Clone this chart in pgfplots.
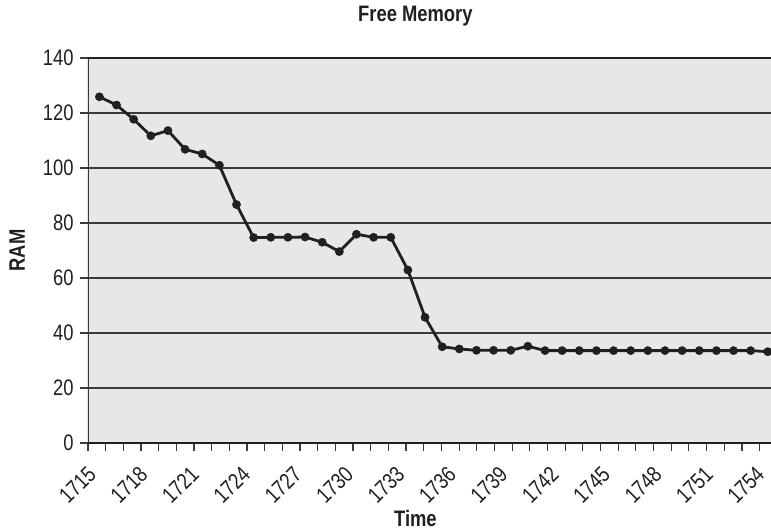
\documentclass[border=0pt]{standalone}
\usepackage{fontspec}
\setmainfont{Liberation Sans}[FakeStretch=0.82, BoldFont={Liberation Sans Bold}, BoldFeatures={FakeStretch=0.82}]
\usepackage{pgfplots}
\pgfplotsset{compat=1.18}
\definecolor{bg}{HTML}{E6E7E8}
\definecolor{ink}{HTML}{231F20}
\definecolor{gridc}{HTML}{3A3A3A}
\begin{document}
\begin{tikzpicture}
\begin{axis}[
  scale only axis,
  width=683.5bp, height=385bp,
  xmin=1714.335, xmax=1754.216,
  ymin=0, ymax=140,
  ytick={0,20,40,60,80,100,120,140},
  ymajorgrids,
  grid style={gridc, line width=1.5bp},
  axis background/.style={fill=bg},
  axis line style={draw=none},
  tick align=outside,
  major tick length=8bp,
  minor tick length=8bp,
  tick style={gridc, line width=1.3bp},
  xtick pos=bottom, ytick pos=left,
  /pgf/number format/assume math mode=true,
  /pgf/number format/1000 sep={},
  tick label style={font=\fontsize{22.5}{25}\selectfont, text=ink},
  minor xtick={1714.341,1715.372,1716.403,1717.434,1718.465,1719.496,1720.527,1721.557,1722.588,1723.619,1724.650,1725.681,1726.712,1727.743,1728.774,1729.805,1730.836,1731.867,1732.898,1733.929,1734.960,1735.991,1737.022,1738.053,1739.084,1740.115,1741.146,1742.176,1743.207,1744.238,1745.269,1746.300,1747.331,1748.362,1749.393,1750.424,1751.455,1752.486,1753.517},
  xtick={1715,1718,1721,1724,1727,1730,1733,1736,1739,1742,1745,1748,1751,1754},
  xticklabels={1715,1718,1721,1724,1727,1730,1733,1736,1739,1742,1745,1748,1751,1754},
  every major x tick/.append style={draw=none},
  xticklabel style={xshift=-13bp, yshift=-9bp, rotate=45, anchor=north east},
  yticklabel style={xshift=-3bp},
  title={Free Memory},
  title style={at={(axis description cs:0.479,1)}, anchor=base, yshift=31bp, font=\fontsize{22.5}{25}\selectfont\bfseries, text=ink},
  xlabel={Time},
  xlabel style={at={(axis description cs:0.479,0)}, anchor=base, yshift=-83bp, font=\fontsize{22.5}{25}\selectfont\bfseries, text=ink},
  ylabel={RAM},
  ylabel style={at={(axis description cs:-0.0922,0.5)}, anchor=base, font=\fontsize{22.5}{25}\selectfont\bfseries, text=ink},
]
\addplot[ink, line width=2.8bp, mark=*, mark size=4.1bp, mark options={fill=ink, draw=ink, line width=0.5bp}] coordinates {
(1715,125.9) (1716,122.9) (1717,117.7) (1718,111.7) (1719,113.6) (1720,106.8)
(1721,105.1) (1722,101.0) (1723,86.7) (1724,74.7) (1725,74.8) (1726,74.8)
(1727,74.9) (1728,73.0) (1729,69.6) (1730,75.9) (1731,74.8) (1732,74.8)
(1733,62.9) (1734,45.7) (1735,35.0) (1736,34.2) (1737,33.7) (1738,33.7)
(1739,33.7) (1740,35.2) (1741,33.6) (1742,33.6) (1743,33.6) (1744,33.6)
(1745,33.6) (1746,33.6) (1747,33.6) (1748,33.6) (1749,33.6) (1750,33.6)
(1751,33.6) (1752,33.6) (1753,33.6) (1754,33.2)
};
\draw[gridc, line width=1.6bp] (rel axis cs:0,0) -- (rel axis cs:0,1);
\draw[ink, line width=2.8bp] (rel axis cs:0,1) -- (rel axis cs:1,1);
\draw[ink, line width=2.8bp] (rel axis cs:0,0) -- (rel axis cs:1,0);
\end{axis}
\pgfresetboundingbox
\path (current axis.south west) ++(-88bp,-87bp) rectangle ++(771bp,530bp);
\end{tikzpicture}
\end{document}
